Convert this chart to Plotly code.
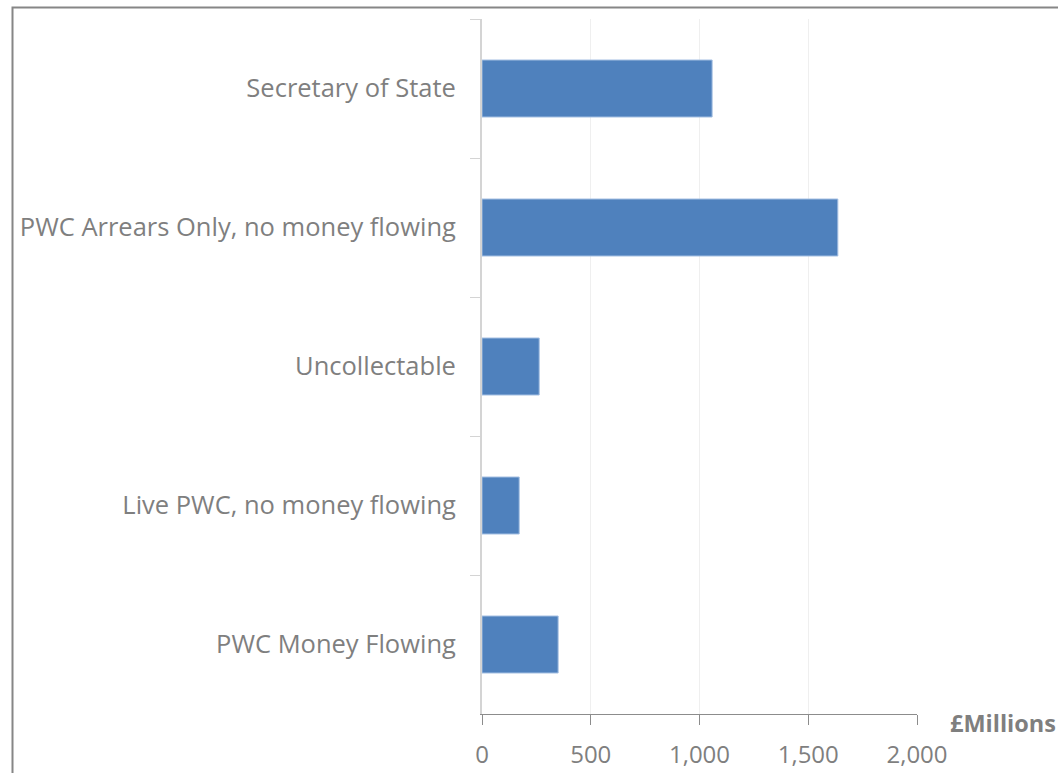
import plotly.graph_objects as go

categories = ["Secretary of State", "PWC Arrears Only, no money flowing", "Uncollectable",
              "Live PWC, no money flowing", "PWC Money Flowing"]
values = [1058, 1636, 263, 171, 350]
x_ticks = [0, 500, 1000, 1500, 2000]
x_tick_labels = ["0", "500", "1,000", "1,500", "2,000"]
axis_title = "£Millions"

FONT = "Open Sans"
GRAY = "#7f7f7f"

fig = go.Figure(go.Bar(
    y=categories, x=values, orientation="h", width=0.41,
    marker=dict(color="#4f81bd", line=dict(color="#a4bfe2", width=1)),
))

fig.update_layout(
    width=1058, height=773,
    margin=dict(l=482, r=141, t=19, b=59, autoexpand=False),
    paper_bgcolor="white", plot_bgcolor="white",
    showlegend=False,
    font=dict(family=FONT, color=GRAY, size=24),
    xaxis=dict(range=[0, 2000], tickvals=x_ticks, ticktext=x_tick_labels,
               showgrid=True, gridcolor="#efefef", gridwidth=1,
               showline=True, linecolor="#8c8c8c", linewidth=1,
               ticks="outside", ticklen=10, tickcolor="#8c8c8c",
               zeroline=False, tickfont=dict(size=24, color=GRAY, family=FONT),
               ticklabelstandoff=9, automargin=False),
    yaxis=dict(autorange="reversed", type="category",
               showline=True, linecolor="#d4d4d4", linewidth=2,
               ticks="outside", ticklen=10, tickcolor="#d4d4d4",
               tickson="boundaries", showgrid=False, zeroline=False,
               tickfont=dict(size=25.5, color=GRAY, family=FONT),
               ticklabelstandoff=19, automargin=False),
    bargap=0.59,
)

fig.add_annotation(text="<b>" + axis_title + "</b>", xref="paper", yref="paper",
                   x=(948 - 482) / 435, y=(714 - 723) / 695, xanchor="left", yanchor="middle",
                   showarrow=False, font=dict(size=23.5, color=GRAY, family=FONT))

fig.add_shape(type="rect", xref="paper", yref="paper",
              x0=(12.5 - 482) / 435, x1=(1070 - 482) / 435,
              y0=(714 - 790) / 695, y1=(714 - 7.5) / 695,
              line=dict(color="#868686", width=2), fillcolor="rgba(0,0,0,0)", layer="below")

fig.write_html("out.html", config={"displayModeBar": False},
               post_script="document.body.style.margin='0';document.body.style.overflow='hidden';")
